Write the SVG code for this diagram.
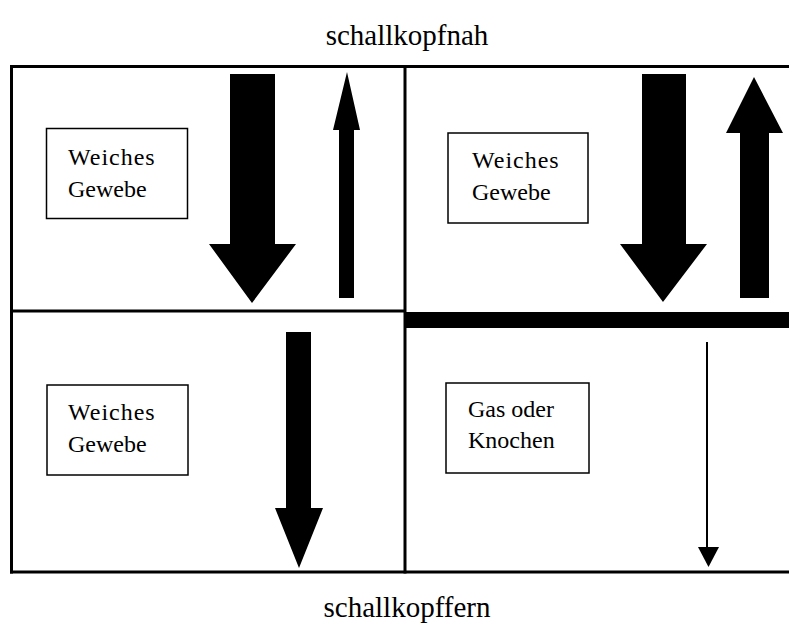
<svg xmlns="http://www.w3.org/2000/svg" width="789" height="624" viewBox="0 0 789 624">
<style>
.t{font-family:"Liberation Serif","Times New Roman",serif;fill:#000}
.lbl{font-size:24px}
.ttl{font-size:29px}
.box{fill:#fff;stroke:#000;stroke-width:1.5}
.frame{stroke:#000;stroke-width:3;fill:none}
.arr{fill:#000}
</style>
<rect width="789" height="624" fill="#fff"/>
<g id="frame">
<line class="frame" x1="10" y1="66.5" x2="789" y2="66.5"/>
<line class="frame" x1="10" y1="572" x2="789" y2="572"/>
<line class="frame" x1="11.5" y1="65" x2="11.5" y2="573.5"/>
<line class="frame" x1="405" y1="65" x2="405" y2="573.5"/>
<line class="frame" x1="10" y1="311" x2="405" y2="311"/>
<rect x="405" y="312" width="384" height="16" fill="#000"/>
</g>
<text class="t ttl" x="407" y="45" text-anchor="middle">schallkopfnah</text>
<text class="t ttl" x="407" y="617" text-anchor="middle">schallkopffern</text>
<g id="box-tl">
<rect class="box" x="46.5" y="128.5" width="141" height="90"/>
<text class="t lbl" x="68" y="165" letter-spacing="1">Weiches</text>
<text class="t lbl" x="68" y="197">Gewebe</text>
</g>
<g id="box-tr">
<rect class="box" x="448" y="133" width="140" height="90"/>
<text class="t lbl" x="472" y="168" letter-spacing="1">Weiches</text>
<text class="t lbl" x="472" y="200">Gewebe</text>
</g>
<g id="box-bl">
<rect class="box" x="47" y="385" width="141" height="90"/>
<text class="t lbl" x="68" y="420" letter-spacing="1">Weiches</text>
<text class="t lbl" x="68" y="452">Gewebe</text>
</g>
<g id="box-br">
<rect class="box" x="446" y="383" width="143" height="90"/>
<text class="t lbl" x="468" y="417">Gas oder</text>
<text class="t lbl" x="468" y="448">Knochen</text>
</g>
<g id="connectors">
<polygon class="arr" points="230,74 275,74 275,244 296,244 252,303 209,244 230,244"/>
<polygon class="arr" points="339,298 354,298 354,130 360,130 347,72 333,130 339,130"/>
<polygon class="arr" points="642,74 686,74 686,244 707,244 663,302 620,244 642,244"/>
<polygon class="arr" points="740,298 769,298 769,133 783,133 754,77 726,133 740,133"/>
<polygon class="arr" points="286,332 311,332 311,508 323,508 299,568 275,508 286,508"/>
<line x1="707" y1="342" x2="707" y2="549" stroke="#000" stroke-width="2"/>
<polygon class="arr" points="698,547 719,547 708.5,567"/>
</g>
</svg>
